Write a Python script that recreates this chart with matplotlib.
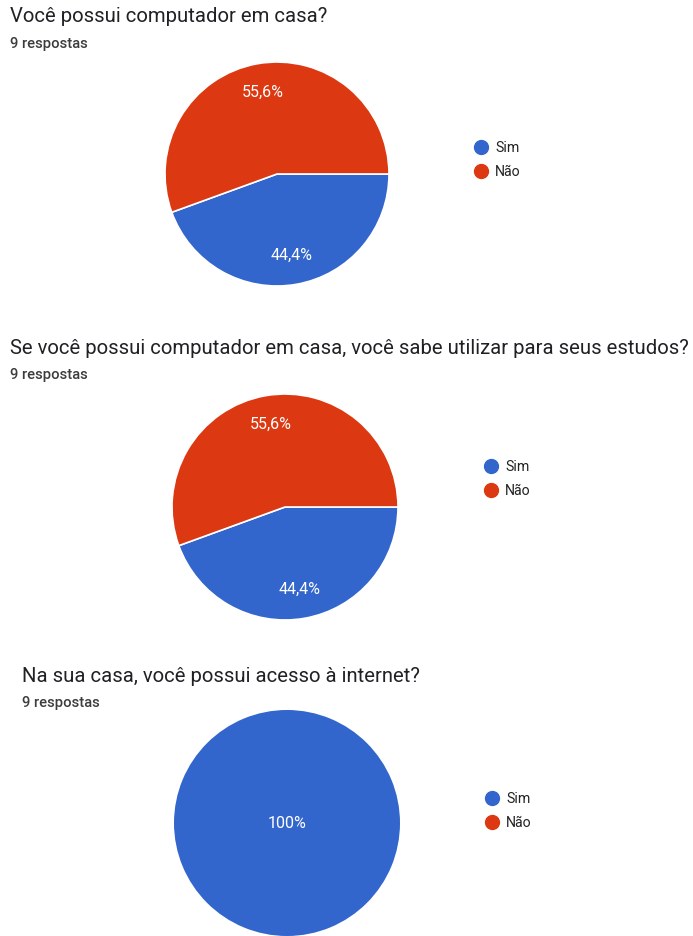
import matplotlib.pyplot as plt
from matplotlib.lines import Line2D

# survey answers (9 respostas each)
categories = ["Sim", "Não"]
colors = ["#3366cc", "#dc3912"]

questions = [
    "Você possui computador em casa?",
    "Se você possui computador em casa, você sabe utilizar para seus estudos?",
    "Na sua casa, você possui acesso à internet?",
]
counts_q1 = [4, 5]
counts_q2 = [4, 5]
counts_q3 = [9, 0]
responses_label = "9 respostas"

W, H = 693, 936
plt.rcParams['font.family'] = ['Roboto', 'DejaVu Sans']


def pct_fmt(p):
    if p < 0.05:
        return ''
    if abs(p - round(p)) < 0.05:
        return "%d%%" % round(p)
    return ("%.1f" % p).replace('.', ',') + '%'


fig = plt.figure(figsize=(W / 100, H / 100), dpi=100)

# layout in pixels: title pos, pie centre, radius, legend pos
layouts = [
    dict(title=(10, 17), sub=(10, 44), center=(277, 174), r=112, legend=(481, 160)),
    dict(title=(10, 348), sub=(10, 375), center=(285, 507), r=113, legend=(491, 479)),
    dict(title=(22, 677), sub=(22, 703), center=(287, 823), r=113, legend=(492, 811)),
]

for q, counts, lay in zip(questions, [counts_q1, counts_q2, counts_q3], layouts):
    tx, ty = lay["title"]
    fig.text(tx / W, 1 - ty / H, q, fontsize=14.6, color="#202124", va="center", ha="left")
    sx, sy = lay["sub"]
    fig.text(sx / W, 1 - sy / H, responses_label, fontsize=10.6, color="#3c3c3c",
             va="center", ha="left", fontweight="medium")

    cx, cy = lay["center"]
    r = lay["r"]
    ax = fig.add_axes([(cx - r) / W, 1 - (cy + r) / H, 2 * r / W, 2 * r / H])
    full = sum(1 for c in counts if c > 0) == 1
    wedges, _, autotexts = ax.pie(counts, colors=colors, startangle=0, counterclock=False,
                                  autopct=pct_fmt, pctdistance=0.74,
                                  wedgeprops=dict(edgecolor="white",
                                                  linewidth=0 if full else 1.2),
                                  textprops=dict(color="white", fontsize=11.5))
    if full:
        # a single full slice gets its label in the middle
        for t in autotexts:
            if t.get_text():
                t.set_position((0, 0))
    ax.set_xlim(-1, 1)
    ax.set_ylim(-1, 1)
    ax.set_aspect("equal")
    ax.axis("off")

    handles = [Line2D([], [], marker="o", linestyle="", markersize=10,
                      markerfacecolor=c, markeredgecolor=c) for c in colors]
    lx, ly = lay["legend"]
    fig.legend(handles, categories, loc="center left",
               bbox_to_anchor=((lx - 20) / W, 1 - ly / H), frameon=False,
               fontsize=10.2, handlelength=1.0, handletextpad=0.5, labelspacing=0.65,
               labelcolor="#222222")

fig.savefig("out.png", dpi=100, facecolor="white")
